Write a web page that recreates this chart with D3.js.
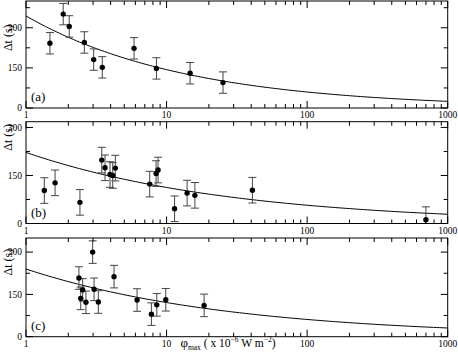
<!DOCTYPE html>
<html><head><meta charset="utf-8">
<script src="https://cdn.jsdelivr.net/npm/d3@7"></script>
<style>html,body{margin:0;padding:0;background:#fff}svg{display:block}text{font-family:"Liberation Serif","Times New Roman",serif;fill:#000}</style>
</head><body><svg id="c" width="458" height="354"></svg>
<script>
// ---- data ----
const panelNames = ["(a)", "(b)", "(c)"];
const aX = [1.48, 1.84, 2.03, 2.60, 3.03, 3.49, 5.87, 8.47, 14.7, 25.2];
const aY = [242, 351, 305, 245, 181, 152, 223, 148, 130, 95];
const aErr = [40, 40, 40, 40, 40, 40, 40, 40, 40, 40];
const bX = [1.35, 1.61, 2.42, 3.46, 3.65, 3.96, 4.14, 4.32, 7.59, 8.42, 8.70, 11.4, 14.0, 15.9, 40.8, 700];
const bY = [103, 127, 66, 198, 174, 153, 150, 173, 123, 156, 167, 46, 95, 88, 104, 12];
const bErr = [40, 40, 40, 40, 40, 40, 40, 40, 40, 40, 40, 40, 40, 40, 40, 40];
const cX = [2.38, 2.45, 2.53, 2.67, 2.98, 3.05, 3.27, 4.23, 6.17, 7.80, 8.52, 9.87, 18.5];
const cY = [208, 136, 166, 122, 300, 168, 123, 213, 130, 80, 113, 131, 111];
const cErr = [40, 40, 40, 40, 40, 40, 40, 40, 40, 40, 40, 40, 40];
// power-law fit  dt = A * phi^(-k)
const fitA = [344, 222, 240];
const fitK = [0.38, 0.295, 0.297];
const yMax = [400, 318, 350];
const xTickLabels = ["1", "10", "100", "1000"];
const xMajor = [1, 10, 100, 1000];
const yMajor = [0, 150, 300];
const yMinorStep = 75;

// ---- layout ----
const left = 26, right = 447.7;
const panelBox = [[1, 108], [121.7, 223.5], [238, 336.7]];
const svg = d3.select("#c");
svg.append("rect").attr("width", 458).attr("height", 354).attr("fill", "#fff");
const x = d3.scaleLog().domain([1, 1000]).range([left, right]);
const xMinor = [];
for (let d = 1; d < 1000; d *= 10) for (let m = 2; m <= 9; m++) xMinor.push(d * m);

const series = [[aX, aY, aErr], [bX, bY, bErr], [cX, cY, cErr]];

series.forEach((s, i) => {
  const [top, bot] = panelBox[i];
  const y = d3.scaleLinear().domain([0, yMax[i]]).range([bot, top]);
  const g = svg.append("g");
  const clipId = "clip" + i;
  svg.append("clipPath").attr("id", clipId).append("rect")
    .attr("x", left).attr("y", top).attr("width", right - left).attr("height", bot - top);

  // fit curve
  const fx = d3.range(0, 3.0001, 0.02).map(e => Math.pow(10, e));
  const line = d3.line().x(d => x(d)).y(d => y(fitA[i] * Math.pow(d, -fitK[i])));
  g.append("path").attr("clip-path", `url(#${clipId})`).attr("d", line(fx))
    .attr("fill", "none").attr("stroke", "#000").attr("stroke-width", 1);

  // error bars + points
  const pts = s[0].map((v, j) => ({ x: v, y: s[1][j], e: s[2][j] }));
  const eb = g.append("g").attr("clip-path", `url(#${clipId})`);
  pts.forEach(p => {
    const px = x(p.x);
    eb.append("line").attr("x1", px).attr("x2", px).attr("y1", y(p.y - p.e)).attr("y2", y(p.y + p.e))
      .attr("stroke", "#444").attr("stroke-width", 1);
    [p.y - p.e, p.y + p.e].forEach(v => {
      eb.append("line").attr("x1", px - 4).attr("x2", px + 4).attr("y1", y(v)).attr("y2", y(v))
        .attr("stroke", "#444").attr("stroke-width", 1);
    });
  });
  eb.selectAll("circle").data(pts).join("circle")
    .attr("cx", d => x(d.x)).attr("cy", d => y(d.y)).attr("r", 2.7).attr("fill", "#000");

  // frame
  g.append("rect").attr("x", left).attr("y", top).attr("width", right - left).attr("height", bot - top)
    .attr("fill", "none").attr("stroke", "#000").attr("stroke-width", 1);

  // x ticks (top & bottom, inward)
  const tk = g.append("g").attr("stroke", "#000").attr("stroke-width", 1);
  xMajor.forEach(v => {
    tk.append("line").attr("x1", x(v)).attr("x2", x(v)).attr("y1", bot).attr("y2", bot - 7);
    tk.append("line").attr("x1", x(v)).attr("x2", x(v)).attr("y1", top).attr("y2", top + 7);
  });
  xMinor.forEach(v => {
    tk.append("line").attr("x1", x(v)).attr("x2", x(v)).attr("y1", bot).attr("y2", bot - 4);
    tk.append("line").attr("x1", x(v)).attr("x2", x(v)).attr("y1", top).attr("y2", top + 4);
  });
  // y ticks (left & right)
  yMajor.forEach(v => {
    tk.append("line").attr("x1", left).attr("x2", left + 7).attr("y1", y(v)).attr("y2", y(v));
    tk.append("line").attr("x1", right).attr("x2", right - 7).attr("y1", y(v)).attr("y2", y(v));
  });
  for (let v = yMinorStep; v < yMax[i]; v += 2 * yMinorStep) {
    tk.append("line").attr("x1", left).attr("x2", left + 4).attr("y1", y(v)).attr("y2", y(v));
    tk.append("line").attr("x1", right).attr("x2", right - 4).attr("y1", y(v)).attr("y2", y(v));
  }

  // tick labels
  xMajor.forEach((v, j) => {
    g.append("text").attr("x", x(v)).attr("y", bot + 10).attr("text-anchor", "middle")
      .attr("font-size", 9.5).text(xTickLabels[j]);
  });
  yMajor.forEach(v => {
    g.append("text").attr("x", left - 4).attr("y", y(v)).attr("dy", "0.35em").attr("text-anchor", "end")
      .attr("font-size", 9.5).text(v);
  });

  // y title
  const yc = y(300) + 10;
  g.append("text").attr("transform", `translate(11.5,${yc}) rotate(-90)`).attr("text-anchor", "middle")
    .attr("font-size", 12).text("\u0394t (s)");

  // panel label
  g.append("text").attr("x", 31).attr("y", bot - 7).attr("font-size", 13).text(panelNames[i]);
});

// x-axis title
const t = svg.append("text").attr("x", 228).attr("y", 347).attr("text-anchor", "middle").attr("font-size", 11.5);
t.append("tspan").attr("font-size", 13).text("\u03c6");
t.append("tspan").attr("font-size", 7.5).attr("dy", 3).text("max");
t.append("tspan").attr("dy", -3).text(" ( x 10");
t.append("tspan").attr("font-size", 7.5).attr("dy", -5).text("\u22126");
t.append("tspan").attr("dy", 5).text(" W m");
t.append("tspan").attr("font-size", 7.5).attr("dy", -5).text("\u22122");
t.append("tspan").attr("dy", 5).text(")");
</script></body></html>
